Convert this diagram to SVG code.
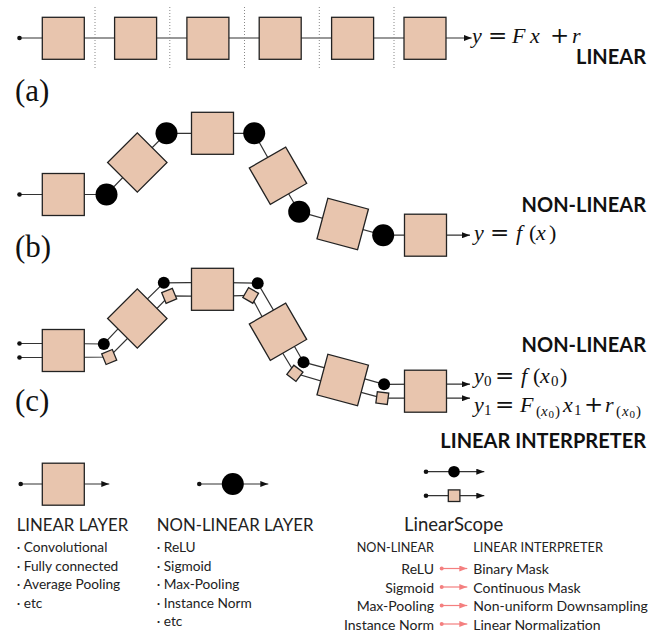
<svg xmlns="http://www.w3.org/2000/svg" width="657" height="632" viewBox="0 0 657 632">
<defs>
<marker id="ah" viewBox="0 0 8 6" refX="8" refY="3" markerWidth="8" markerHeight="6" markerUnits="userSpaceOnUse" orient="auto"><path d="M0,0 L8,3 L0,6 z" fill="#111"/></marker>
<marker id="ahp" viewBox="0 0 8 6" refX="8" refY="3" markerWidth="8" markerHeight="6" markerUnits="userSpaceOnUse" orient="auto"><path d="M0,0 L8,3 L0,6 z" fill="#f47f7f"/></marker>
<style>
.box{fill:#e8c5ae;stroke:#222;stroke-width:1.3}
.wire{fill:none;stroke:#333;stroke-width:1.2}
.pw{fill:none;stroke:#f47f7f;stroke-width:1.2}
.dotted{stroke:#888;stroke-width:1;stroke-dasharray:1 2}
.lbl{font-family:"Liberation Serif",serif;font-size:31px;fill:#111}
.math{font-family:"Liberation Serif",serif;font-size:22px;fill:#111}
.i{font-style:italic}
.op{font-family:"DejaVu Serif",serif;font-size:23px}
.s{font-size:15px}
.ss{font-size:11px}
.bold{font-family:Lato,"Liberation Sans",sans-serif;font-weight:700;font-size:20px;text-anchor:end;fill:#111}
.leg{font-family:Lato,"Liberation Sans",sans-serif;fill:#222}
.h{font-size:16.8px}
.li{font-size:13.7px}
.ri{font-size:14px}
.end{text-anchor:end}
</style>
</defs>

<!-- Panel (a) -->
<g id="panel-a">
<g id="a-connectors">
<line class="wire" x1="19" y1="38" x2="471.7" y2="38" marker-end="url(#ah)"/>
<circle cx="19.5" cy="38" r="2.3" fill="#111"/>
<line class="dotted" x1="95" y1="7" x2="95" y2="68"/>
<line class="dotted" x1="169.8" y1="7" x2="169.8" y2="68"/>
<line class="dotted" x1="244.5" y1="7" x2="244.5" y2="68"/>
<line class="dotted" x1="319.3" y1="7" x2="319.3" y2="68"/>
<line class="dotted" x1="394" y1="7" x2="394" y2="68"/>
</g>
<g id="a1"><rect class="box" x="42.3" y="17.3" width="42" height="42"/></g>
<g id="a2"><rect class="box" x="114.6" y="17.3" width="42" height="42"/></g>
<g id="a3"><rect class="box" x="186.9" y="17.3" width="42" height="42"/></g>
<g id="a4"><rect class="box" x="259.2" y="17.3" width="42" height="42"/></g>
<g id="a5"><rect class="box" x="331.6" y="17.3" width="42" height="42"/></g>
<g id="a6"><rect class="box" x="404" y="17.3" width="42" height="42"/></g>
<text class="math" y="43"><tspan x="472" class="i">y</tspan><tspan x="488" class="op">=</tspan><tspan x="512" class="i">F</tspan><tspan x="530" class="i">x</tspan><tspan x="550" class="op">+</tspan><tspan x="572" class="i">r</tspan></text>
<text class="bold" x="646" y="63.5">LINEAR</text>
<text class="lbl" x="15" y="101">(a)</text>
</g>

<!-- Panel (b) -->
<g id="panel-b">
<g id="b-connectors">
<polyline class="wire" points="19,194.5 63.3,194.5 106.5,194.5 137.3,162.5 166.5,133.3 212.5,133.3 254.2,133.3 278,175.7 299.2,211.7 342.7,224 383.2,235.2 425.5,235.2 470,235.2" marker-end="url(#ah)"/>
<circle cx="19.5" cy="194.5" r="2.3" fill="#111"/>
</g>
<g id="b-lin1"><rect class="box" x="42.3" y="173.5" width="42" height="42"/></g>
<g id="b-lin2"><rect class="box" x="-21" y="-21" width="42" height="42" transform="translate(137.3,162.5) rotate(45)"/></g>
<g id="b-lin3"><rect class="box" x="191.5" y="112.3" width="42" height="42"/></g>
<g id="b-lin4"><rect class="box" x="-21" y="-21" width="42" height="42" transform="translate(278,175.7) rotate(60)"/></g>
<g id="b-lin5"><rect class="box" x="-21" y="-21" width="42" height="42" transform="translate(342.7,224) rotate(15)"/></g>
<g id="b-lin6"><rect class="box" x="404.5" y="214.2" width="42" height="42"/></g>
<g id="b-nl1"><circle cx="106.5" cy="194.5" r="11" fill="#000"/></g>
<g id="b-nl2"><circle cx="166.5" cy="133.3" r="11" fill="#000"/></g>
<g id="b-nl3"><circle cx="254.2" cy="133.3" r="11" fill="#000"/></g>
<g id="b-nl4"><circle cx="299.2" cy="211.7" r="11" fill="#000"/></g>
<g id="b-nl5"><circle cx="383.2" cy="235.2" r="11" fill="#000"/></g>
<text class="bold" x="646" y="212.3">NON-LINEAR</text>
<text class="math" y="240"><tspan x="474" class="i">y</tspan><tspan x="490" class="op">=</tspan><tspan x="516" class="i">f</tspan><tspan x="529">(</tspan><tspan x="536" class="i">x</tspan><tspan x="549">)</tspan></text>
<text class="lbl" x="15" y="257">(b)</text>
</g>

<!-- Panel (c) -->
<g id="panel-c">
<g id="c-connectors">
<polyline class="wire" points="19,343.5 63.3,343.5 103.8,344 132.4,313.6 163.8,282.8 212.5,282.3 257.7,283.2 284.1,328.2 303.5,362.2 344.5,373.2 384.1,384.3 425.5,384.2 470,384.2" marker-end="url(#ah)"/>
<polyline class="wire" points="19,357.5 63.3,357.5 109.2,357 142.3,323.5 169.2,295.8 212.5,296.3 250.7,295.4 271.9,335.2 294.9,373.3 340.9,386.8 382.3,398.1 425.5,398.2 470,398.2" marker-end="url(#ah)"/>
<circle cx="19.5" cy="343.5" r="2.3" fill="#111"/>
<circle cx="19.5" cy="357.5" r="2.3" fill="#111"/>
</g>
<g id="c-lin1"><rect class="box" x="42.3" y="329.5" width="42" height="42"/></g>
<g id="c-lin2"><rect class="box" x="-21" y="-21" width="42" height="42" transform="translate(137.3,318.5) rotate(45)"/></g>
<g id="c-lin3"><rect class="box" x="191.5" y="268.3" width="42" height="42"/></g>
<g id="c-lin4"><rect class="box" x="-21" y="-21" width="42" height="42" transform="translate(278,331.7) rotate(60)"/></g>
<g id="c-lin5"><rect class="box" x="-21" y="-21" width="42" height="42" transform="translate(342.7,380) rotate(15)"/></g>
<g id="c-lin6"><rect class="box" x="404.5" y="370.2" width="42" height="42"/></g>
<g id="c-nl1"><circle cx="103.8" cy="344" r="6" fill="#000"/><rect class="box" x="-5.75" y="-5.75" width="11.5" height="11.5" transform="translate(109.2,357) rotate(-22.5)"/></g>
<g id="c-nl2"><circle cx="163.8" cy="282.8" r="6" fill="#000"/><rect class="box" x="-5.75" y="-5.75" width="11.5" height="11.5" transform="translate(169.2,295.8) rotate(-22.5)"/></g>
<g id="c-nl3"><circle cx="257.7" cy="283.2" r="6" fill="#000"/><rect class="box" x="-5.75" y="-5.75" width="11.5" height="11.5" transform="translate(250.7,295.4) rotate(30)"/></g>
<g id="c-nl4"><circle cx="303.5" cy="362.2" r="6" fill="#000"/><rect class="box" x="-5.75" y="-5.75" width="11.5" height="11.5" transform="translate(294.9,373.3) rotate(37.5)"/></g>
<g id="c-nl5"><circle cx="384.1" cy="384.3" r="6" fill="#000"/><rect class="box" x="-5.75" y="-5.75" width="11.5" height="11.5" transform="translate(382.3,398.1) rotate(7.5)"/></g>
<text class="bold" x="646" y="351.7">NON-LINEAR</text>
<text class="math"><tspan x="474" y="383" class="i">y</tspan><tspan x="484" y="386" class="s">0</tspan><tspan x="495" y="383" class="op">=</tspan><tspan x="521" y="383" class="i">f</tspan><tspan x="533" y="383">(</tspan><tspan x="540" y="383" class="i">x</tspan><tspan x="551" y="386" class="s">0</tspan><tspan x="560" y="383">)</tspan></text>
<text class="math"><tspan x="474" y="412" class="i">y</tspan><tspan x="484" y="415" class="s">1</tspan><tspan x="495" y="412" class="op">=</tspan><tspan x="520" y="412" class="i">F</tspan><tspan x="536" y="416" class="s">(</tspan><tspan x="541" y="416" class="s i">x</tspan><tspan x="548.5" y="418" class="ss">0</tspan><tspan x="555" y="416" class="s">)</tspan><tspan x="563" y="412" class="i">x</tspan><tspan x="574" y="415" class="s">1</tspan><tspan x="584" y="412" class="op">+</tspan><tspan x="605" y="412" class="i">r</tspan><tspan x="616" y="416" class="s">(</tspan><tspan x="622" y="416" class="s i">x</tspan><tspan x="629.5" y="418" class="ss">0</tspan><tspan x="636" y="416" class="s">)</tspan></text>
<text class="bold" x="646" y="448.3">LINEAR INTERPRETER</text>
<text class="lbl" x="15" y="410.5">(c)</text>
</g>

<!-- Legend -->
<g id="legend-linear">
<line class="wire" x1="20.7" y1="484" x2="109.3" y2="484" marker-end="url(#ah)"/>
<circle cx="20.7" cy="484" r="2.3" fill="#111"/>
<rect class="box" x="42.3" y="463.2" width="42" height="42"/>
<text class="leg h" x="16.7" y="531">LINEAR LAYER</text>
<text class="leg li" x="16.7" y="552">· Convolutional</text>
<text class="leg li" x="16.7" y="570.5">· Fully connected</text>
<text class="leg li" x="16.7" y="589">· Average Pooling</text>
<text class="leg li" x="16.7" y="607.5">· etc</text>
</g>
<g id="legend-nonlinear">
<line class="wire" x1="199.3" y1="484" x2="268.3" y2="484" marker-end="url(#ah)"/>
<circle cx="199.3" cy="484" r="2.3" fill="#111"/>
<circle cx="232.8" cy="484" r="11" fill="#000"/>
<text class="leg h" x="156.7" y="531">NON-LINEAR LAYER</text>
<text class="leg li" x="156.7" y="552">· ReLU</text>
<text class="leg li" x="156.7" y="570.5">· Sigmoid</text>
<text class="leg li" x="156.7" y="589">· Max-Pooling</text>
<text class="leg li" x="156.7" y="607.5">· Instance Norm</text>
<text class="leg li" x="156.7" y="626">· etc</text>
</g>
<g id="legend-linearscope">
<line class="wire" x1="426" y1="471.7" x2="484.3" y2="471.7" marker-end="url(#ah)"/>
<circle cx="426" cy="471.7" r="2.3" fill="#111"/>
<circle cx="454" cy="471.7" r="5.8" fill="#000"/>
<line class="wire" x1="426" y1="495.7" x2="484.3" y2="495.7" marker-end="url(#ah)"/>
<circle cx="426" cy="495.7" r="2.3" fill="#111"/>
<rect class="box" x="448.3" y="489.9" width="11.6" height="11.6"/>
<text class="leg" x="404" y="531" font-size="18.5">LinearScope</text>
<text class="leg end" x="434" y="551.7" font-size="12.6">NON-LINEAR</text>
<text class="leg" x="473.3" y="551.7" font-size="12.8">LINEAR INTERPRETER</text>
<text class="leg ri end" x="434" y="574">ReLU</text>
<text class="leg ri end" x="434" y="592.5">Sigmoid</text>
<text class="leg ri end" x="434" y="611">Max-Pooling</text>
<text class="leg ri end" x="434" y="629.5">Instance Norm</text>
<text class="leg ri" x="473.3" y="574">Binary Mask</text>
<text class="leg ri" x="473.3" y="592.5">Continuous Mask</text>
<text class="leg ri" x="473.3" y="611">Non-uniform Downsampling</text>
<text class="leg ri" x="473.3" y="629.5">Linear Normalization</text>
<g id="pink-arrows">
<line class="pw" x1="441.7" y1="568.5" x2="467.3" y2="568.5" marker-end="url(#ahp)"/><circle cx="441.7" cy="568.5" r="2" fill="#f47f7f"/>
<line class="pw" x1="441.7" y1="587" x2="467.3" y2="587" marker-end="url(#ahp)"/><circle cx="441.7" cy="587" r="2" fill="#f47f7f"/>
<line class="pw" x1="441.7" y1="605.5" x2="467.3" y2="605.5" marker-end="url(#ahp)"/><circle cx="441.7" cy="605.5" r="2" fill="#f47f7f"/>
<line class="pw" x1="441.7" y1="624" x2="467.3" y2="624" marker-end="url(#ahp)"/><circle cx="441.7" cy="624" r="2" fill="#f47f7f"/>
</g>
</g>
</svg>
